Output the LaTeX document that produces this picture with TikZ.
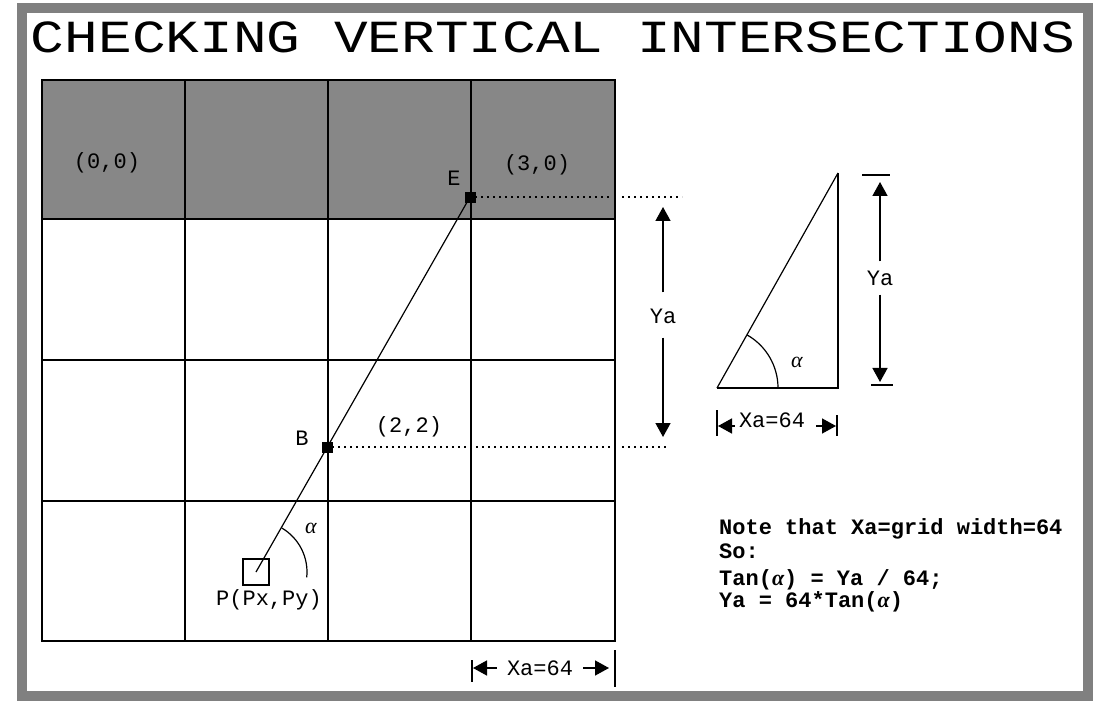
\documentclass[tikz,border=0pt]{standalone}
\usepackage{fontspec}
\usepackage{xcolor}
\usepackage{tikz}
\newfontfamily\courierfont{Liberation Mono}
\newfontfamily\titlefont[FakeStretch=1.22]{Liberation Mono}
\newfontfamily\greekfont{Liberation Serif}
\newcommand{\angalpha}{{\greekfont\itshape α}}
\definecolor{framegray}{rgb}{0.5, 0.5, 0.5}
\definecolor{cellgray}{rgb}{0.53, 0.53, 0.53}
\usetikzlibrary{arrows.meta}

\begin{document}
\begin{tikzpicture}[x=1pt, y=-1pt,
	lbl/.style={font=\courierfont\fontsize{22}{24}\selectfont, inner sep=0pt},
	note/.style={font=\courierfont\bfseries\fontsize{22}{24}\selectfont, inner sep=0pt, anchor=base west},
	corner/.style={draw, fill=black, minimum size=10pt, inner sep=0pt},
	gridline/.style={line width=1.8pt},
	thinline/.style={line width=1.2pt},
	dotline/.style={line width=1.6pt, dash pattern=on 1.6pt off 4.4pt},
	dimline/.style={line width=1.5pt, -{Triangle[width=15pt,length=14pt]}},
	bar/.style={line width=1.5pt}]
			\useasboundingbox (0,0) rectangle (1116,708);
			\fill[white] (0,0) rectangle (1116,708);
			\draw[line width=10pt, framegray] (22,8) rectangle (1088,696);
			
			\node[font=\titlefont\fontsize{46}{50}\selectfont, anchor=base, inner sep=0pt] (title) at (553,53) {CHECKING VERTICAL INTERSECTIONS};
			
			% grid
			\fill[cellgray] (42,80) rectangle (615,219);
			\draw[gridline] (42,80) rectangle (615,641);
			\draw[gridline] (185,80) -- (185,641);
			\draw[gridline] (328,80) -- (328,641);
			\draw[gridline] (471,80) -- (471,641);
			\draw[gridline] (42,219) -- (615,219);
			\draw[gridline] (42,360) -- (615,360);
			\draw[gridline] (42,501) -- (615,501);
			
			\node[lbl] (c00) at (107,163) {(0,0)};
			\node[lbl] (c30) at (537,165) {(3,0)};
			\node[lbl] (c22) at (409,427) {(2,2)};
			
			% ray from P
			\node[draw, line width=1.3pt, minimum size=26pt, inner sep=0pt] (P) at (256,572) {};
			\node[corner] (B) at (327,447) {};
			\node[corner] (E) at (470,197) {};
			\draw[thinline] (P.center) -- (E.center);
			\node[lbl] (Elbl) at (454,178) {E};
			\node[lbl] (Blbl) at (302,438) {B};
			\node[lbl, anchor=base] (Plbl) at (269,605) {P(Px,Py)};
			\draw[thinline] (P.center) ++(59.5:51pt) arc[start angle=59.5, end angle=-6, radius=51pt];
			\node[lbl] (alphaP) at (311,528) {\angalpha};
			
			% dotted levels
			\coordinate (Eedge) at (613,197);
			\coordinate (Eout1) at (622,197);
			\coordinate (Eout2) at (682,197);
			\coordinate (Bedge) at (613,447);
			\coordinate (Bout1) at (622,447);
			\coordinate (Bout2) at (667,447);
			\draw[dotline] (E) -- (Eedge);
			\draw[dotline] (Eout1) -- (Eout2);
			\draw[dotline] (B) -- (Bedge);
			\draw[dotline] (Bout1) -- (Bout2);
			
			% Ya between E and B
			\node[lbl] (yaleft) at (663,316) {Ya};
			\coordinate (yaltop) at (663,207);
			\coordinate (yalbot) at (663,437);
			\draw[dimline] ([yshift=16pt]yaleft.north) -- (yaltop);
			\draw[dimline] ([yshift=-14pt]yaleft.south) -- (yalbot);
			
			% triangle
			\coordinate (tA) at (717,388);
			\coordinate (tC) at (838,388);
			\coordinate (tT) at (838,173);
			\draw[bar] (tA) -- (tC) -- (tT);
			\draw[thinline] (tA) -- (tT);
			\draw[thinline] (tA) ++(60.5:61pt) arc[start angle=60.5, end angle=0, radius=61pt];
			\node[lbl] (alphatri) at (797,362) {\angalpha};
			
			\node[lbl] (yaright) at (880,278) {Ya};
			\coordinate (yartop) at (880,182);
			\coordinate (yarbot) at (880,382);
			\draw[dimline] ([yshift=9pt]yaright.north) -- (yartop);
			\draw[dimline] ([yshift=-9pt]yaright.south) -- (yarbot);
			\draw[bar] (862,175) -- (890,175);
			\draw[bar] (871,385) -- (893,385);
			
			\node[lbl] (xatri) at (772,420) {Xa=64};
			\coordinate (xatlft) at (718,426);
			\coordinate (xatrgt) at (836,426);
			\draw[dimline] ([xshift=-4pt,yshift=-6pt]xatri.west) -- (xatlft);
			\draw[dimline] ([xshift=11pt,yshift=-6pt]xatri.east) -- (xatrgt);
			\draw[bar] (717,410) -- (717,436);
			\draw[bar] (837,415) -- (837,436);
			
			% Xa under the grid
			\node[lbl] (xabot) at (540,668) {Xa=64};
			\coordinate (xablft) at (473,668);
			\coordinate (xabrgt) at (609,668);
			\draw[dimline] ([xshift=-10pt]xabot.west) -- (xablft);
			\draw[dimline] ([xshift=10pt]xabot.east) -- (xabrgt);
			\draw[bar] (472,660) -- (472,682);
			\draw[bar] (615,650) -- (615,687);
			
			% note
			\node[note] (note1) at (719,534) {Note that Xa=grid width=64};
			\node[note] (note2) at (719,558) {So:};
			\node[note] (note3) at (719,585) {Tan(\angalpha) = Ya / 64;};
			\node[note] (note4) at (719,607) {Ya = 64*Tan(\angalpha)};
			
			\end{tikzpicture}
\end{document}
